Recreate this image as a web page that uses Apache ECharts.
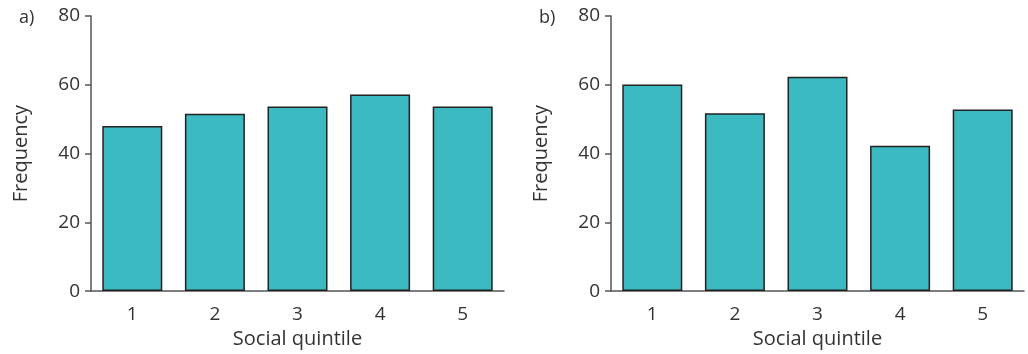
<!DOCTYPE html>
<html>
<head>
<meta charset="utf-8">
<script src="https://cdn.jsdelivr.net/npm/echarts@6/dist/echarts.min.js"></script>
<style>
html,body{margin:0;padding:0;background:#fff;}
#chart{width:1028px;height:354px;}
</style>
</head>
<body>
<div id="chart"></div>
<script>
const categories = ['1', '2', '3', '4', '5'];
const valuesA = [48, 51.6, 53.7, 57.2, 53.7];
const valuesB = [60.1, 51.7, 62.3, 42.3, 52.8];
const yTicks = [0, 20, 40, 60, 80];
const panelLabels = ['a)', 'b)'];
const xName = 'Social quintile';
const yName = 'Frequency';

const FONT = 'Open Sans';
const TXT = '#333';
const AX = '#555';
const BAR = '#3bbbc1';

const chart = echarts.init(document.getElementById('chart'), null, {renderer: 'canvas'});

function xAxis(gi) {
  return {
    type: 'category', gridIndex: gi, data: categories,
    name: xName, nameLocation: 'middle', nameGap: 37,
    nameTextStyle: {fontFamily: FONT, fontSize: 20, color: TXT},
    axisLine: {lineStyle: {color: AX, width: 1.5}},
    axisTick: {alignWithLabel: true, length: 7, lineStyle: {color: AX, width: 1.5}},
    axisLabel: {fontFamily: FONT, fontSize: 19, color: TXT, margin: 14},
    splitLine: {show: false}
  };
}
function yAxis(gi) {
  return {
    type: 'value', gridIndex: gi, min: yTicks[0], max: yTicks[yTicks.length - 1], interval: 20,
    name: yName, nameLocation: 'middle', nameGap: 60, nameRotate: 90,
    nameTextStyle: {fontFamily: FONT, fontSize: 20, color: TXT},
    axisLine: {show: true, lineStyle: {color: AX, width: 1.5}},
    axisTick: {show: true, length: 6, lineStyle: {color: AX, width: 1.5}},
    axisLabel: {fontFamily: FONT, fontSize: 19, color: TXT, margin: 11},
    splitLine: {show: false}
  };
}
function barSeries(gi, data) {
  return {
    type: 'bar', xAxisIndex: gi, yAxisIndex: gi, data: data,
    barWidth: 60,
    itemStyle: {color: BAR, borderColor: '#222', borderWidth: 1.5},
    silent: true, animation: false
  };
}

chart.setOption({
  animation: false,
  title: [
    {text: panelLabels[0], left: 19, top: 9, padding: 0, textStyle: {fontFamily: FONT, fontSize: 18, fontWeight: 'normal', color: TXT}},
    {text: panelLabels[1], left: 539, top: 9, padding: 0, textStyle: {fontFamily: FONT, fontSize: 18, fontWeight: 'normal', color: TXT}}
  ],
  grid: [
    {left: 91, right: 524, top: 16, bottom: 62},
    {left: 611, right: 4, top: 16, bottom: 62}
  ],
  xAxis: [xAxis(0), xAxis(1)],
  yAxis: [yAxis(0), yAxis(1)],
  series: [barSeries(0, valuesA), barSeries(1, valuesB)]
});
</script>
</body>
</html>
